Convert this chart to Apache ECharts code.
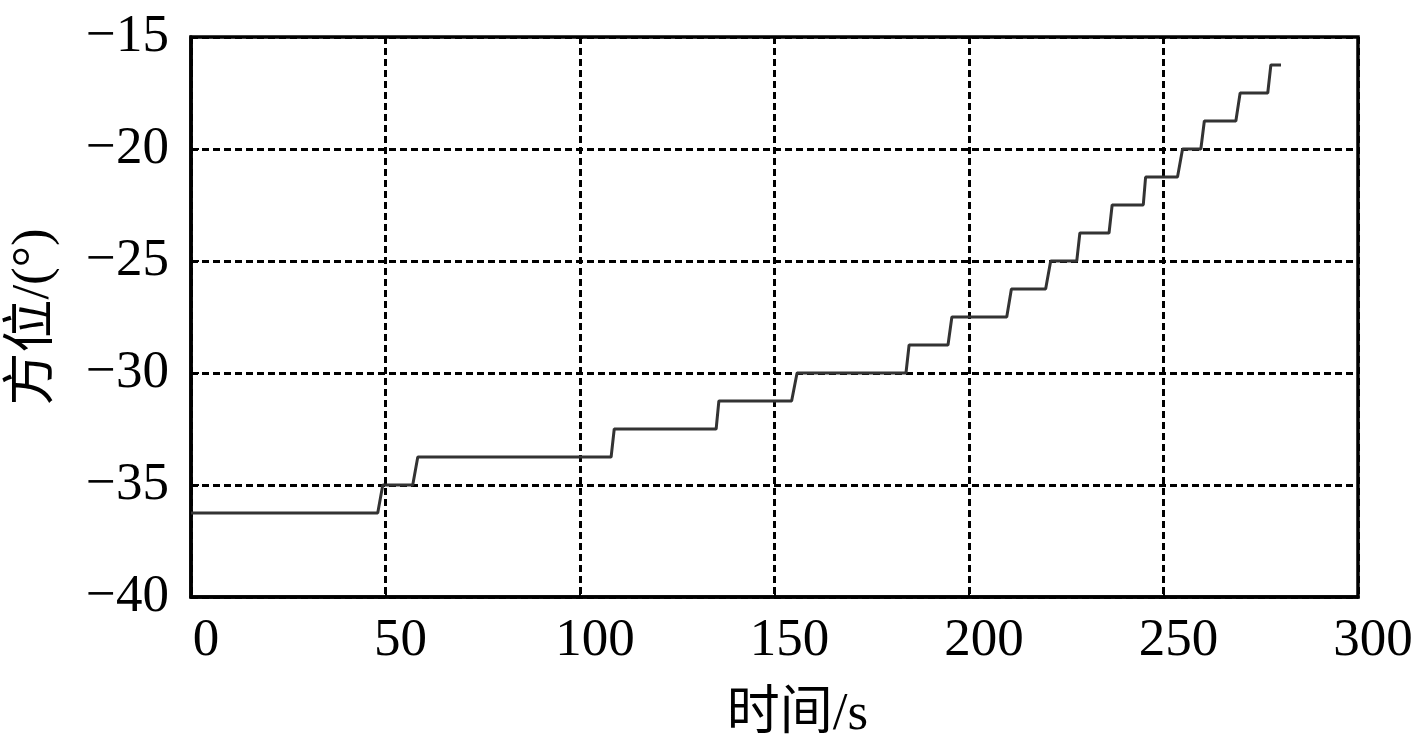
<!DOCTYPE html>
<html>
<head>
<meta charset="utf-8">
<script src="https://cdn.jsdelivr.net/npm/echarts@6/dist/echarts.min.js"></script>
<style>
html,body{margin:0;padding:0;background:#fff;}
#chart{width:1417px;height:746px;}
</style>
</head>
<body>
<div id="chart"></div>
<script>
const times = [0,48,49.3,57,58.3,108,108.8,135,135.7,154.4,155.8,183.8,184.6,194.6,195.6,209.7,210.9,219.7,221,227.7,228.5,236,236.8,244.8,245.4,253.6,254.9,259.6,260.5,268.6,269.7,276.8,277.6,280.2];
const azimuth = [-36.25,-36.25,-35,-35,-33.75,-33.75,-32.5,-32.5,-31.25,-31.25,-30,-30,-28.75,-28.75,-27.5,-27.5,-26.25,-26.25,-25,-25,-23.75,-23.75,-22.5,-22.5,-21.25,-21.25,-20,-20,-18.75,-18.75,-17.5,-17.5,-16.25,-16.25];
const xName = '时间/s';
const yName = '方位/(°)';

const data = times.map((t, i) => [t, azimuth[i]]);
const font = '"Liberation Serif","Times New Roman",serif';
const nameFont = '"Liberation Serif","Noto Sans CJK SC",serif';
const chart = echarts.init(document.getElementById('chart'));
const minus = v => String(v).replace('-', '\u2212');
chart.setOption({
  animation: false,
  backgroundColor: '#fff',
  grid: {left: 191, right: 59, top: 37, bottom: 149, outerBoundsMode: 'none', containLabel: false, show: true, borderColor: '#000', borderWidth: 3.5, backgroundColor: 'transparent'},
  xAxis: {
    type: 'value', min: 0, max: 300, interval: 50,
    name: xName, nameLocation: 'middle', nameGap: 92,
    nameTextStyle: {fontFamily: nameFont, fontSize: 53, color: '#000', padding: [0, 0, 0, 46]},
    axisLine: {show: true, lineStyle: {color: '#000', width: 3.5}},
    axisTick: {show: true, inside: true, length: 8, lineStyle: {color: '#000', width: 2}},
    axisLabel: {fontFamily: font, fontSize: 53, color: '#000', margin: 18, padding: [0, 0, 0, 30], formatter: minus},
    splitLine: {show: true, lineStyle: {color: '#000', width: 3, type: [7, 4]}}
  },
  yAxis: {
    type: 'value', min: -40, max: -15, interval: 5,
    name: yName, nameLocation: 'middle', nameGap: 130, nameRotate: 90,
    nameTextStyle: {fontFamily: nameFont, fontSize: 53, color: '#000'},
    axisLine: {show: true, lineStyle: {color: '#000', width: 3.5}},
    axisTick: {show: true, inside: true, length: 8, lineStyle: {color: '#000', width: 2}},
    axisLabel: {fontFamily: font, fontSize: 53, color: '#000', margin: 22, formatter: minus},
    splitLine: {show: true, lineStyle: {color: '#000', width: 3, type: [7, 4]}}
  },
  series: [{
    type: 'line', data: data, showSymbol: false, symbol: 'none',
    lineStyle: {color: '#333', width: 3}
  }]
});
</script>
</body>
</html>
